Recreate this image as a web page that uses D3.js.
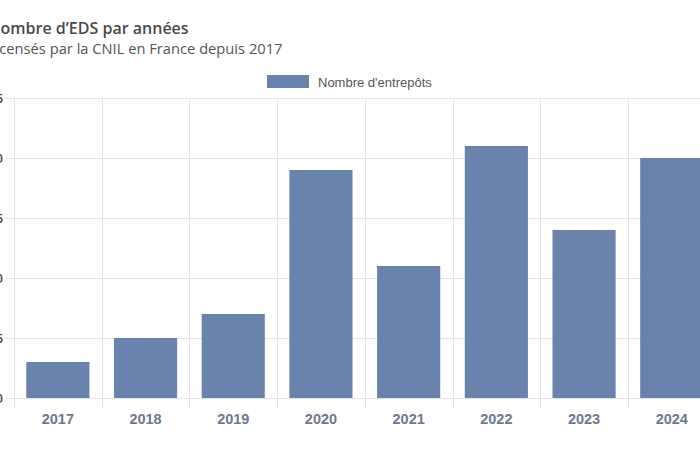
<!DOCTYPE html>
<html>
<head>
<meta charset="utf-8">
<script src="https://cdn.jsdelivr.net/npm/d3@7"></script>
<style>
  html, body { margin: 0; padding: 0; background: #fff; overflow: hidden; }
  svg { display: block; }
</style>
</head>
<body>
<svg id="chart" width="700" height="450"></svg>
<script>
const categories = ["2017", "2018", "2019", "2020", "2021", "2022", "2023", "2024"];
const values = [3, 5, 7, 19, 11, 21, 14, 20];
const yTicks = [0, 5, 10, 15, 20, 25];
const seriesName = "Nombre d'entrepôts";
const title = "Nombre d’EDS par années";
const subtitle = "Recensés par la CNIL en France depuis 2017";

(function () {
const svg = d3.select("#chart");
const pLeft = 14, pRight = 715.6, pTop = 98, pBottom = 398;
const barColor = "#6983ad";
const gridColor = "#e3e3e3";

const x = d3.scaleBand().domain(categories).range([pLeft, pRight]).paddingInner(0.28).paddingOuter(0.14);
const y = d3.scaleLinear().domain([0, 25]).range([pBottom, pTop]);

// horizontal grid lines
svg.append("g").selectAll("line").data(yTicks).join("line")
  .attr("x1", 5).attr("x2", pRight)
  .attr("y1", d => y(d) + 0.5).attr("y2", d => y(d) + 0.5)
  .attr("stroke", gridColor).attr("stroke-width", 1);

// vertical grid lines at band boundaries
const step = x.step();
const bounds = d3.range(categories.length + 1).map(i => pLeft + i * step);
svg.append("g").selectAll("line").data(bounds).join("line")
  .attr("x1", d => Math.round(d) + 0.5).attr("x2", d => Math.round(d) + 0.5)
  .attr("y1", pTop).attr("y2", pBottom + 11)
  .attr("stroke", gridColor).attr("stroke-width", 1);

// bars
svg.append("g").selectAll("rect").data(values).join("rect")
  .attr("x", (d, i) => x(categories[i]))
  .attr("width", x.bandwidth())
  .attr("y", d => y(d))
  .attr("height", d => y(0) - y(d))
  .attr("fill", barColor);

// y tick labels (mostly cropped, as in the reference)
svg.append("g").selectAll("text").data(yTicks).join("text")
  .attr("x", 3).attr("y", d => y(d) + 4.5)
  .attr("text-anchor", "end")
  .attr("font-family", "Liberation Sans, Arial, sans-serif")
  .attr("font-size", 12).attr("font-weight", "bold")
  .attr("fill", "#555")
  .text(d => d);

// x axis labels
const xAxis = d3.axisBottom(x).tickSize(0).tickPadding(0);
const gx = svg.append("g").attr("transform", "translate(0, 424)").call(xAxis);
gx.select(".domain").remove();
gx.selectAll("text")
  .attr("dy", 0)
  .attr("font-family", "Liberation Sans, Arial, sans-serif")
  .attr("font-size", 14.5).attr("font-weight", "bold")
  .attr("fill", "#6e7892");

// title and subtitle
svg.append("text").attr("x", -12).attr("y", 34)
  .attr("font-family", "Open Sans, Noto Sans, sans-serif")
  .attr("font-size", 16).attr("font-weight", "600")
  .attr("fill", "#4a4a4a").text(title);
svg.append("text").attr("x", -18).attr("y", 54)
  .attr("font-family", "Open Sans, Noto Sans, sans-serif")
  .attr("font-size", 14.7)
  .attr("fill", "#555").text(subtitle);

// legend
const lg = svg.append("g");
lg.append("rect").attr("x", 267).attr("y", 75).attr("width", 42).attr("height", 13).attr("fill", barColor);
lg.append("text").attr("x", 318).attr("y", 86.5)
  .attr("font-family", "Liberation Sans, Arial, sans-serif")
  .attr("font-size", 13).attr("fill", "#555").text(seriesName);
})();
</script>
</body>
</html>
